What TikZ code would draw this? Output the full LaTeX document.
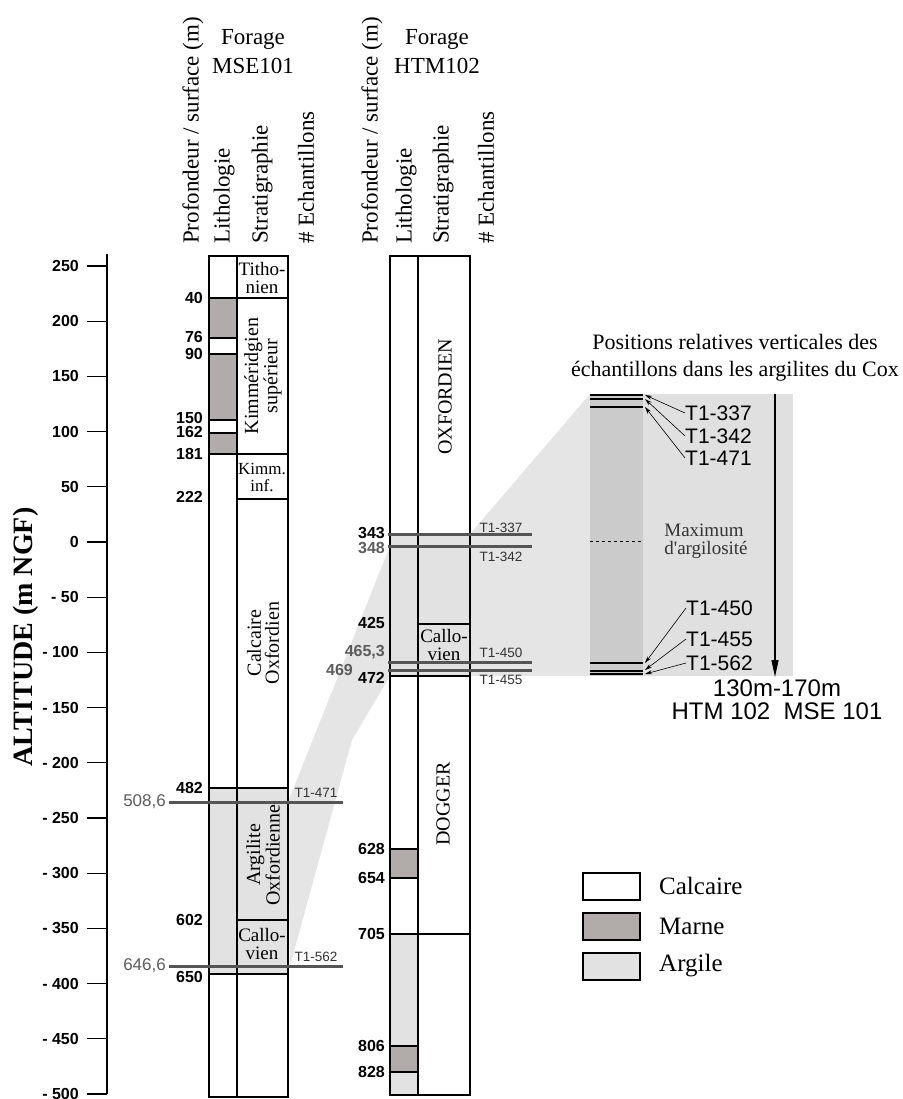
\documentclass[tikz,border=0pt]{standalone}
\usepackage{fontspec}
\setmainfont{Liberation Serif}
\setsansfont{Liberation Sans}
\usetikzlibrary{arrows.meta, positioning}
\definecolor{cmarne}{HTML}{B1ACAA}
\definecolor{cargile}{HTML}{E2E2E2}
\definecolor{cband}{HTML}{E5E5E5}
\definecolor{cinset}{HTML}{E0E0E0}
\definecolor{cstrip}{HTML}{CBCBCB}
\definecolor{csample}{HTML}{555555}
\definecolor{cglab}{HTML}{5C5C5C}
\definecolor{cdark}{HTML}{333333}
\tikzset{
  colbox/.style={draw=black, line width=1.1pt},
  calcaire/.style={colbox, fill=white},
  marne/.style={colbox, fill=cmarne},
  argile/.style={colbox, fill=cargile},
  sample/.style={draw=csample, line width=3pt},
  axisline/.style={draw=black, line width=1.1pt},
  ticklab/.style={anchor=east, inner sep=1pt, font=\sffamily\bfseries\fontsize{16}{16}\selectfont},
  depth/.style={anchor=east, inner sep=1pt, font=\sffamily\bfseries\fontsize{16}{16}\selectfont},
  gdepth/.style={depth, text=cglab},
  gdepthr/.style={anchor=east, inner sep=1pt, text=cglab, font=\sffamily\fontsize{17}{17}\selectfont},
  tlab/.style={inner sep=0pt, text=cdark, font=\sffamily\fontsize{13.5}{14}\selectfont},
  head/.style={rotate=90, anchor=west, inner sep=0pt, font=\fontsize{23}{23}\selectfont},
  well/.style={align=center, inner sep=0pt, font=\fontsize{23}{29}\selectfont},
  strat/.style={align=center, inner sep=0pt, font=\fontsize{19}{18}\selectfont},
  rstrat/.style={strat, rotate=90, font=\fontsize{20}{18}\selectfont},
  ilab/.style={anchor=west, inner sep=0pt, font=\sffamily\fontsize{21}{21}\selectfont},
  iarr/.style={-{Stealth[length=7pt, width=4pt]}, line width=0.6pt},
  varr/.style={-{Triangle[length=17pt, width=7pt]}, line width=1.2pt},
  legbox/.style={draw=black, line width=1.2pt},
  legtxt/.style={anchor=west, inner sep=0pt, font=\fontsize{25}{25}\selectfont},
}
\begin{document}
\begin{tikzpicture}[x=1pt, y=-1pt]
  \useasboundingbox (0,0) rectangle (902,1099);

  % zoom bands and inset
  \fill[cband] (288,802) -- (390,546) -- (390,676) -- (352,740) -- (290,966) -- cycle;
  \fill[cband] (470,534) -- (590,394) -- (590,676) -- (470,676) -- cycle;
  \fill[cinset] (590,394) rectangle (793,676);
  \fill[cstrip] (590,394) rectangle (643,676);

  % altitude axis
  \node[rotate=90, inner sep=0pt, font=\bfseries\fontsize{28}{28}\selectfont] (alt) at (26,637) {ALTITUDE (m NGF)};
  \draw[axisline] (107,254) -- (107,1094);
  \foreach \lab [count=\i from 0] in {250,200,150,100,50,0,- 50,- 100,- 150,- 200,- 250,- 300,- 350,- 400,- 450,- 500}{
    \pgfmathsetmacro\yy{266+55.2*\i}
    \draw[axisline] (87,\yy) -- (107,\yy);
    \node[ticklab] (tk\i) at (80,\yy) {\lab};
  }

  % headers
  \node[well] (fmse) at (253,52) {Forage\\MSE101};
  \node[head] (hm1) at (193,244) {Profondeur / surface (m)};
  \node[head] (hm2) at (224,244) {Lithologie};
  \node[head] (hm3) at (262,244) {Stratigraphie};
  \node[head] (hm4) at (306,244) {\# Echantillons};
  \node[well] (fhtm) at (437,52) {Forage\\HTM102};
  \node[head] (hh1) at (372,244) {Profondeur / surface (m)};
  \node[head] (hh2) at (406,244) {Lithologie};
  \node[head] (hh3) at (443,244) {Stratigraphie};
  \node[head] (hh4) at (486,244) {\# Echantillons};

  % forage MSE101
  \foreach \ya/\yb/\s in {256/298/calcaire, 298/338/marne, 338/354/calcaire, 354/420/marne,
      420/433/calcaire, 433/454/marne, 454/788/calcaire, 788/974/argile, 974/1097/calcaire}
    \draw[\s] (209,\ya) rectangle (237,\yb);
  \foreach \ya/\yb/\s in {256/298/calcaire, 298/454/calcaire, 454/499/calcaire, 499/788/calcaire,
      788/920/argile, 920/974/argile, 974/1097/calcaire}
    \draw[\s] (237,\ya) rectangle (288,\yb);
  \node[strat] (tith) at (262,278) {Titho-\\nien};
  \node[rstrat] (ksup) at (263,376) {Kimméridgien\\supérieur};
  \node[strat, font=\fontsize{17}{17}\selectfont] (kinf) at (262,477) {Kimm.\\inf.};
  \node[rstrat] (coxf) at (263,643) {Calcaire\\Oxfordien};
  \node[rstrat] (aoxf) at (263,855) {Argilite\\Oxfordienne};
  \node[strat] (cmse) at (262,944) {Callo-\\vien};
  \foreach \lab/\yy in {40/298, 76/337, 90/354, 150/418, 162/432, 181/454, 222/497, 482/788, 602/920, 650/977}
    \node[depth] (m\lab) at (204,\yy) {\lab};
  \draw[sample] (169,802) -- (343,802);
  \draw[sample] (169,966) -- (343,966);
  \node[gdepthr] (m508) at (167,802) {508,6};
  \node[gdepthr] (m646) at (167,966) {646,6};
  \node[tlab] (t471) at (316,793) {T1-471};
  \node[tlab] (t562) at (316,957) {T1-562};

  % forage HTM102
  \foreach \ya/\yb/\s in {256/534/calcaire, 534/676/argile, 676/849/calcaire, 849/878/marne,
      878/934/calcaire, 934/1046/argile, 1046/1072/marne, 1072/1095/argile}
    \draw[\s] (390,\ya) rectangle (418,\yb);
  \foreach \ya/\yb/\s in {256/534/calcaire, 534/624/argile, 624/676/argile, 676/934/calcaire, 934/1095/calcaire}
    \draw[\s] (418,\ya) rectangle (470,\yb);
  \node[rstrat] (oxf) at (445,397) {OXFORDIEN};
  \node[strat] (chtm) at (444,645) {Callo-\\vien};
  \node[rstrat] (dog) at (443,804) {DOGGER};
  \foreach \lab/\yy in {343/533, 425/623, 472/678, 628/849, 654/878, 705/934, 806/1046, 828/1072}
    \node[depth] (h\lab) at (386,\yy) {\lab};
  \node[gdepth] (h348) at (386,548) {348};
  \node[gdepth] (h465) at (386,652) {465,3};
  \node[gdepth] (h469) at (354,670) {469};
  \draw[sample] (388,534) -- (532,534);
  \draw[sample] (388,546) -- (532,546);
  \draw[sample] (388,662) -- (532,662);
  \draw[sample] (388,670) -- (532,670);
  \node[tlab] (t337) at (501,528) {T1-337};
  \node[tlab] (t342) at (501,557) {T1-342};
  \node[tlab] (t450) at (501,653) {T1-450};
  \node[tlab] (t455) at (501,680) {T1-455};

  % positions relatives
  \node[align=center, inner sep=0pt, font=\fontsize{22}{27}\selectfont] (ttl) at (735,358)
    {Positions relatives verticales des\\échantillons dans les argilites du Cox};
  \foreach \yy in {395,399,407,663,671,674}
    \draw[line width=1.1pt] (590,\yy) -- (643,\yy);
  \draw[dashed, line width=0.6pt] (590,541) -- (643,541);
  \node[align=left, inner sep=0pt, text=cdark, font=\fontsize{19}{18}\selectfont] (maxa) at (706,541)
    {Maximum\\d\textquotesingle argilosité};
  \coordinate (e337) at (645,395);
  \coordinate (e342) at (645,399);
  \coordinate (e471) at (645,407);
  \coordinate (e450) at (645,663);
  \coordinate (e455) at (645,670);
  \coordinate (e562) at (645,674);
  \node[ilab] (i337) at (685,413) {T1-337};
  \node[ilab] (i342) at (685,436) {T1-342};
  \node[ilab] (i471) at (685,458) {T1-471};
  \node[ilab] (i450) at (686,608) {T1-450};
  \node[ilab] (i455) at (686,639) {T1-455};
  \node[ilab] (i562) at (686,663) {T1-562};
  \foreach \n in {337,342,471,450,455,562}
    \draw[iarr] (i\n.west) -- (e\n);
  \coordinate (vtop) at (775,394);
  \coordinate (vbot) at (775,677);
  \draw[varr] (vtop) -- (vbot);
  \node[inner sep=0pt, font=\sffamily\fontsize{24}{24}\selectfont] (rng) at (777,688) {130m-170m};
  \node[inner sep=0pt, font=\sffamily\fontsize{24}{24}\selectfont, below=6pt of rng] (wls) {HTM 102\ \ MSE 101};

  % legend
  \draw[legbox, fill=white] (583,873) rectangle (640,900);
  \draw[legbox, fill=cmarne] (583,913) rectangle (640,940);
  \draw[legbox, fill=cargile] (583,953) rectangle (640,980);
  \node[legtxt] (lcal) at (659,886) {Calcaire};
  \node[legtxt] (lmar) at (659,926) {Marne};
  \node[legtxt] (larg) at (659,966) {Argile};
\end{tikzpicture}
\end{document}
